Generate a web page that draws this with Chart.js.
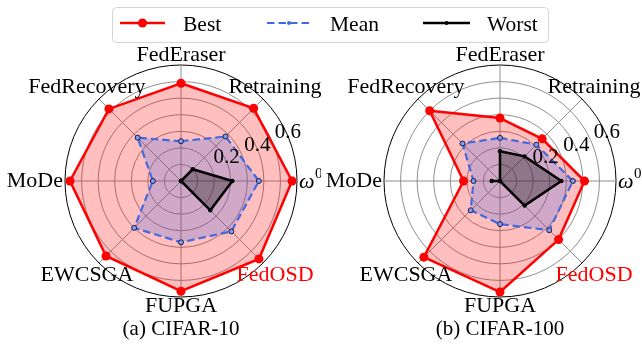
<!DOCTYPE html>
<html>
<head>
<meta charset="utf-8">
<script src="https://cdn.jsdelivr.net/npm/chart.js@4"></script>
<style>
  body { margin: 0; background: #fff; }
  #wrap { position: relative; width: 642px; height: 346px; overflow: hidden; font-family: "Liberation Serif", serif; }
  canvas { position: absolute; top: 0; }
  #overlay { position: absolute; left: 0; top: 0; }
</style>
</head>
<body>
<div id="wrap">
  <canvas id="chart-cifar10" width="321" height="346" style="left:0"></canvas>
  <canvas id="chart-cifar100" width="321" height="346" style="left:321px"></canvas>
  <svg id="overlay" width="642" height="346">
    <rect x="112.5" y="7.5" width="436" height="35" rx="4" fill="#fff" stroke="#d4d4d4" stroke-width="1"/>
    <line x1="120" y1="23" x2="165" y2="23" stroke="#ff0000" stroke-width="2.5"/>
    <circle cx="142.5" cy="23" r="4.5" fill="#ff0000"/>
    <text x="183" y="31" font-size="21.5" font-family="Liberation Serif">Best</text>
    <line x1="267" y1="23" x2="311" y2="23" stroke="#4169e1" stroke-width="2.2" stroke-dasharray="7.5,4"/>
    <circle cx="289" cy="23" r="2" fill="#4169e1"/>
    <text x="330" y="31" font-size="21.5" font-family="Liberation Serif">Mean</text>
    <line x1="423" y1="23" x2="470" y2="23" stroke="#000" stroke-width="2.5"/>
    <circle cx="446.5" cy="23" r="2" fill="#000"/>
    <text x="487" y="31" font-size="21.5" font-family="Liberation Serif">Worst</text>
    <text x="181" y="335" font-size="21" text-anchor="middle" font-family="Liberation Serif">(a) CIFAR-10</text>
    <text x="500" y="335" font-size="21" text-anchor="middle" font-family="Liberation Serif">(b) CIFAR-100</text>
  </svg>
</div>
<script>
// axes, clockwise from the top
const methods = ['FedEraser', 'Retraining', 'ω^0', 'FedOSD', 'FUPGA', 'EWCSGA', 'MoDe', 'FedRecovery'];

// (a) CIFAR-10
const cifar10Best  = [0.59, 0.62, 0.67, 0.665, 0.665, 0.64, 0.67, 0.615];
const cifar10Mean  = [0.24, 0.38, 0.47, 0.43, 0.37, 0.40, 0.17, 0.37];
const cifar10Worst = [0, 0.10, 0.31, 0.25, 0, 0, 0, 0];

// (b) CIFAR-100
const cifar100Best  = [0.38, 0.36, 0.51, 0.50, 0.67, 0.65, 0.22, 0.60];
const cifar100Mean  = [0.26, 0.31, 0.44, 0.42, 0.26, 0.25, 0.16, 0.32];
const cifar100Worst = [0.18, 0.21, 0.37, 0.21, 0, 0, 0.05, 0];

// radial tick labels that are printed
const radialTicks = [0.2, 0.4, 0.6];
const radialMax = 0.7;

// labels around the circle + radial tick labels (drawn on top, like matplotlib)
const axisTextPlugin = {
    id: 'axisText',
    afterDatasetsDraw(chart) {
        const scale = chart.scales.r;
        const ctx = chart.ctx;
        const R = scale.drawingArea;
        ctx.save();
        ctx.textBaseline = 'middle';
        methods.forEach((name, i) => {
            let dist, align;
            if (i % 2 === 1) { dist = R + 17; align = 'center'; }
            else if (i === 0 || i === 4) { dist = R + 9.5; align = 'center'; }
            else { dist = R + 2; align = (i === 2) ? 'left' : 'right'; }
            const p = scale.getPointPosition(i, dist);
            ctx.fillStyle = name === 'FedOSD' ? '#ff0000' : '#000';
            if (name.includes('^')) {
                const [base, sup] = name.split('^');
                ctx.textAlign = 'left';
                ctx.font = 'italic 22px "Liberation Serif"';
                ctx.fillText(base, p.x, p.y + 1);
                const w = ctx.measureText(base).width;
                ctx.font = '15px "Liberation Serif"';
                ctx.fillText(sup, p.x + w + 0.5, p.y - 7);
            } else {
                ctx.textAlign = align;
                ctx.font = '22px "Liberation Serif"';
                ctx.fillText(name, p.x, p.y);
            }
        });

        // tick labels along the 22.5 degree direction
        ctx.font = '21px "Liberation Serif"';
        ctx.textAlign = 'left';
        ctx.textBaseline = 'alphabetic';
        ctx.fillStyle = '#000';
        const a = 22.5 * Math.PI / 180;
        radialTicks.forEach(v => {
            const d = scale.getDistanceFromCenterForValue(v);
            const x = scale.xCenter + d * Math.cos(a);
            const y = scale.yCenter - d * Math.sin(a);
            ctx.fillText(v.toFixed(1), x + 2, y - 5);
        });
        ctx.restore();
    }
};

function plotRadar(canvasId, best, mean, worst, padding) {
    const ctx = document.getElementById(canvasId).getContext('2d');
    return new Chart(ctx, {
        type: 'radar',
        data: {
            labels: methods,
            datasets: [{
                label: 'Best',
                data: best,
                order: 3,
                borderColor: '#ff0000',
                backgroundColor: 'rgba(255, 0, 0, 0.25)',
                borderWidth: 2.5,
                pointRadius: 4.5,
                pointBorderWidth: 0,
                pointBackgroundColor: '#ff0000',
                fill: true,
                tension: 0,
            }, {
                label: 'Mean',
                data: mean,
                order: 2,
                borderColor: '#4169e1',
                backgroundColor: 'rgba(65, 105, 225, 0.25)',
                borderWidth: 2.2,
                borderDash: [7.5, 4],
                pointRadius: 2.5,
                pointBorderWidth: 1,
                pointBorderColor: '#1a1a40',
                pointBackgroundColor: '#7f9cf5',
                fill: true,
                tension: 0,
            }, {
                label: 'Worst',
                data: worst,
                order: 1,
                borderColor: '#000',
                backgroundColor: 'rgba(0, 0, 0, 0.3)',
                borderWidth: 2.5,
                pointRadius: 2.2,
                pointBorderWidth: 0,
                pointBackgroundColor: '#000',
                fill: true,
                tension: 0,
            }]
        },
        options: {
            responsive: false,
            animation: false,
            devicePixelRatio: 1,
            layout: { padding: padding },
            scales: {
                r: {
                    min: 0,
                    max: radialMax,
                    ticks: { display: false, stepSize: 0.1 },
                    pointLabels: { display: false },
                    grid: {
                        circular: true,
                        color: (c) => (c.tick && Math.abs(c.tick.value - radialMax) < 1e-6) ? '#000' : '#8f8f8f',
                        lineWidth: 1,
                    },
                    angleLines: { color: '#8f8f8f', lineWidth: 1 },
                }
            },
            plugins: {
                legend: { display: false },
                tooltip: { enabled: false },
            }
        },
        plugins: [axisTextPlugin]
    });
}

plotRadar('chart-cifar10', cifar10Best, cifar10Mean, cifar10Worst, { left: 65, right: 24, top: 65, bottom: 49 });
plotRadar('chart-cifar100', cifar100Best, cifar100Mean, cifar100Worst, { left: 63, right: 26, top: 65, bottom: 49 });
</script>
</body>
</html>
